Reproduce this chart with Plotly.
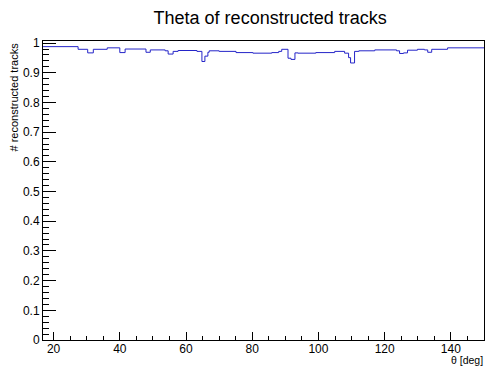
import plotly.graph_objects as go

# Bin edges (deg) and bin contents
edges = [16.8, 27.4, 30.3, 32.0, 36.2, 40.0, 41.6, 47.9, 49.2, 53.7, 54.6, 56.1,
         57.6, 63.3, 64.8, 65.7, 66.6, 67.0, 70.0, 75.1, 80.2, 85.9, 88.0, 88.9,
         90.8, 91.7, 92.9, 93.8, 99.2, 104.9, 107.9, 109.1, 109.7, 110.9, 112.2,
         117.0, 123.6, 124.5, 125.7, 126.9, 129.9, 132.0, 133.0, 134.2, 139.0, 150.0]
values = [0.988, 0.979, 0.967, 0.979, 0.984, 0.968, 0.980, 0.969, 0.977, 0.974,
          0.963, 0.972, 0.975, 0.972, 0.938, 0.956, 0.969, 0.974, 0.972, 0.968,
          0.966, 0.968, 0.972, 0.979, 0.949, 0.945, 0.967, 0.966, 0.968, 0.972,
          0.966, 0.951, 0.933, 0.972, 0.974, 0.977, 0.974, 0.965, 0.967, 0.976,
          0.979, 0.977, 0.969, 0.979, 0.984]

x_ticks = [20, 40, 60, 80, 100, 120, 140]
y_ticks = [0, 0.1, 0.2, 0.3, 0.4, 0.5, 0.6, 0.7, 0.8, 0.9, 1]
y_labels = ["0", "0.1", "0.2", "0.3", "0.4", "0.5", "0.6", "0.7", "0.8", "0.9", "1"]

xs = list(edges)
ys = list(values) + [values[-1]]

FONT = "Liberation Sans, Arial, Helvetica, sans-serif"

fig = go.Figure()
fig.add_trace(go.Scatter(x=xs, y=ys, mode="lines", line_shape="hv",
                         line=dict(color="#2424c8", width=1), hoverinfo="skip"))

fig.update_layout(
    width=485, height=367,
    margin=dict(l=43, r=1, t=41, b=27),
    paper_bgcolor="white", plot_bgcolor="white",
    showlegend=False,
    font=dict(family=FONT, color="black", size=12),
    title=dict(text="Theta of reconstructed tracks", x=0.557, xref="container",
               xanchor="center", y=0.952, yref="container", yanchor="middle",
               font=dict(family=FONT, size=18, color="black")),
)
fig.update_xaxes(range=[16.8, 150], showgrid=False, zeroline=False,
                 showline=True, linecolor="black", linewidth=1, mirror=True,
                 ticks="inside", ticklen=8, tickcolor="black", ticklabelstandoff=-2,
                 tickvals=x_ticks, ticktext=[str(v) for v in x_ticks],
                 tickfont=dict(size=12, family=FONT),
                 minor=dict(dtick=5, tick0=0, ticks="inside", ticklen=4, tickcolor="black"))
fig.update_yaxes(range=[0, 1.007], showgrid=False, zeroline=False,
                 showline=True, linecolor="black", linewidth=1, mirror=True,
                 ticks="inside", ticklen=13, tickcolor="black",
                 tickvals=y_ticks, ticktext=y_labels,
                 tickfont=dict(size=12, family=FONT),
                 minor=dict(dtick=0.02, tick0=0, ticks="inside", ticklen=6, tickcolor="black"))

fig.add_annotation(text="# reconstructed tracks", textangle=-90,
                   xref="paper", yref="paper", x=-0.068, y=1.0,
                   xanchor="center", yanchor="top", showarrow=False,
                   font=dict(family=FONT, size=11, color="black"))
fig.add_annotation(text="θ [deg]", xref="paper", yref="paper", x=1.0, y=-0.0903,
                   xanchor="right", yanchor="bottom", showarrow=False, borderpad=0,
                   font=dict(family=FONT, size=10.5, color="black"))

fig.write_html("out.html", config={"displayModeBar": False},
               post_script="document.body.style.margin='0';document.body.style.overflow='hidden';")
